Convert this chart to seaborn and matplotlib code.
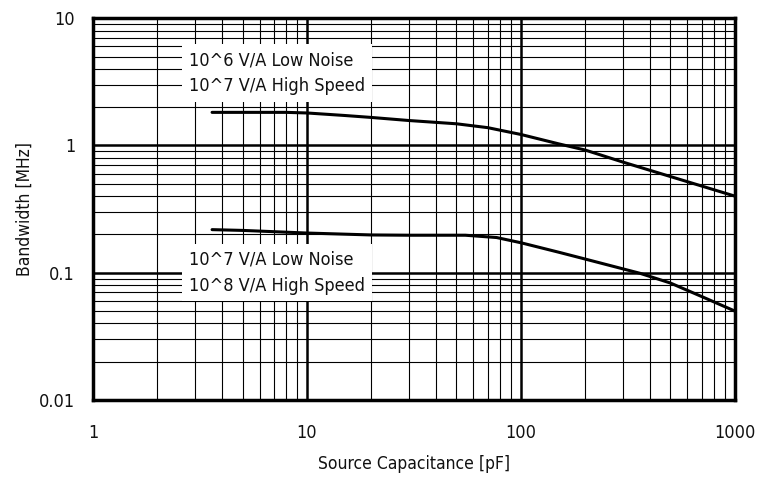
import seaborn as sns
import pandas as pd
import matplotlib.pyplot as plt

# Values (log-log)
cap_low_gain = [3.6, 5, 8, 10, 15, 20, 30, 50, 70, 100, 150, 200, 300, 500, 700, 1000]
bw_low_gain = [1.82, 1.82, 1.82, 1.80, 1.72, 1.66, 1.57, 1.48, 1.38, 1.22, 1.03, 0.92, 0.74, 0.57, 0.48, 0.40]

cap_high_gain = [3.6, 5, 10, 20, 30, 55, 77, 100, 150, 200, 360, 500, 700, 1000]
bw_high_gain = [0.218, 0.215, 0.205, 0.198, 0.197, 0.197, 0.189, 0.172, 0.145, 0.128, 0.099, 0.083, 0.065, 0.050]

label_low = "10^6 V/A Low Noise\n10^7 V/A High Speed"
label_high = "10^7 V/A Low Noise\n10^8 V/A High Speed"

x_ticks = [1, 10, 100, 1000]
x_tick_labels = ["1", "10", "100", "1000"]
y_ticks = [0.01, 0.1, 1, 10]
y_tick_labels = ["0.01", "0.1", "1", "10"]

df = pd.concat([
    pd.DataFrame({'cap': cap_low_gain, 'bw': bw_low_gain, 'curve': 'low'}),
    pd.DataFrame({'cap': cap_high_gain, 'bw': bw_high_gain, 'curve': 'high'}),
])

sns.set_style("white")
plt.rcParams['font.family'] = ['DejaVu Sans']
plt.rcParams['font.stretch'] = 'condensed'
plt.rcParams['text.color'] = '#111111'
plt.rcParams['axes.labelcolor'] = '#111111'
plt.rcParams['xtick.color'] = '#111111'
plt.rcParams['ytick.color'] = '#111111'

fig, ax = plt.subplots(figsize=(7.63, 4.79), dpi=100)
fig.subplots_adjust(left=0.122, right=0.963, bottom=0.165, top=0.962)

sns.lineplot(data=df, x='cap', y='bw', units='curve', estimator=None,
             color='black', linewidth=2.2, ax=ax, legend=False)

ax.set_xscale('log')
ax.set_yscale('log')
ax.set_xlim(1, 1000)
ax.set_ylim(0.01, 10)

ax.grid(which='major', color='black', linewidth=1.8)
ax.grid(which='minor', color='black', linewidth=0.8)
ax.set_axisbelow(True)
ax.tick_params(which='both', length=0, labelsize=13)
ax.tick_params(axis='x', pad=17)
ax.tick_params(axis='y', pad=13)

ax.set_xticks(x_ticks)
ax.set_xticklabels(x_tick_labels)
ax.set_yticks(y_ticks)
ax.set_yticklabels(y_tick_labels)

for s in ax.spines.values():
    s.set_color('black')
    s.set_linewidth(2.5)

ax.set_xlabel('Source Capacitance [pF]', fontsize=12.5, labelpad=10)
ax.set_ylabel('Bandwidth [MHz]', fontsize=12.5, labelpad=4)

box = dict(facecolor='white', edgecolor='none', pad=5)
ax.text(2.8, 3.7, label_low, fontsize=13, va='center', ha='left',
        linespacing=1.55, bbox=box)
ax.text(2.8, 0.1, label_high, fontsize=13, va='center', ha='left',
        linespacing=1.55, bbox=box)

fig.savefig('out.png', dpi=100)
